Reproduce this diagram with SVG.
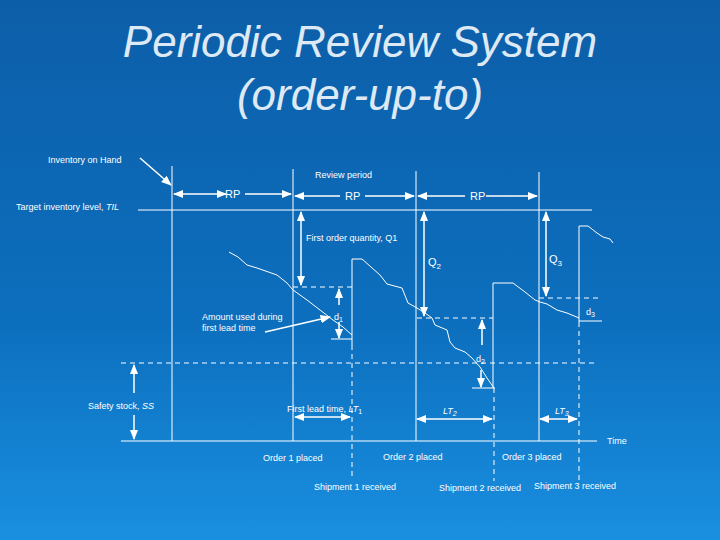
<svg xmlns="http://www.w3.org/2000/svg" width="720" height="540" viewBox="0 0 720 540">
<defs>
<linearGradient id="bg" x1="0" y1="0" x2="0" y2="1"><stop offset="0" stop-color="#0d5ea8"/><stop offset="0.6" stop-color="#0c6fbe"/><stop offset="1" stop-color="#1a8fe0"/></linearGradient>
<marker id="ah" viewBox="0 0 10 10" refX="9" refY="5" markerWidth="7" markerHeight="7" orient="auto-start-reverse"><path d="M0,1 L10,5 L0,9 z" fill="#fff"/></marker>
</defs>
<style>
.l{stroke:#fff;stroke-width:1;fill:none}
.d{stroke:#fff;stroke-width:1;fill:none;stroke-dasharray:5,4}
.a{stroke:#fff;stroke-width:1.5;fill:none;marker-end:url(#ah)}
.b{stroke:#fff;stroke-width:1.5;fill:none;marker-end:url(#ah);marker-start:url(#ah)}
text{font-family:"Liberation Sans",Arial,sans-serif;fill:#fff;font-size:9px}
.t{font-size:44px;font-style:italic;fill:#dde9f4;text-anchor:middle}
.m{font-size:11px}
</style>
<rect width="720" height="540" fill="url(#bg)"/>
<text class="t" x="360" y="57">Periodic Review System</text>
<text class="t" x="360" y="110">(order-up-to)</text>
<g id="axes">
<line class="l" x1="121" y1="441" x2="597" y2="441"/>
<line class="l" x1="138" y1="210" x2="592" y2="210"/>
<line class="d" x1="121" y1="363" x2="595" y2="363"/>
<line class="l" x1="172" y1="166" x2="172" y2="441"/>
<line class="l" x1="293" y1="169" x2="293" y2="441"/>
<line class="l" x1="416" y1="171" x2="416" y2="441"/>
<line class="l" x1="539" y1="172" x2="539" y2="441"/>
</g>
<g id="inventory">
<polyline class="l" points="229,252 238,257 247,265 257,268 277,275 287,283 293,290 307,300 320,310 333,320 343,327 352,335"/>
<polyline class="l" points="352,345 352,259 362,259 380,275 387,284 402,288 408,303 417,308 425,313 432,318 435,325 447,330 450,342 455,348 465,352 472,358 480,367 487,378 494,388"/>
<polyline class="l" points="493,388 493,283 513,283 525,292 535,300 540,302 547,304 557,310 567,313 579,318"/>
<polyline class="l" points="579,322 579,226 588,226 597,233 603,237 610,239 613,243"/>
<line class="d" x1="352" y1="345" x2="352" y2="480"/>
<line class="d" x1="494" y1="388" x2="494" y2="481"/>
<line class="d" x1="579" y1="322" x2="579" y2="480"/>
<line class="d" x1="293" y1="287" x2="352" y2="287"/>
<line class="d" x1="417" y1="318" x2="493" y2="318"/>
<line class="d" x1="539" y1="298" x2="601" y2="298"/>
<line class="l" x1="331" y1="339" x2="352" y2="339"/>
<line class="l" x1="472" y1="388" x2="495" y2="388"/>
<line class="l" x1="579" y1="321" x2="602" y2="321"/>
</g>
<g id="connectors">
<line class="a" x1="140" y1="158" x2="171" y2="185"/>
<line class="b" x1="174" y1="194" x2="226" y2="194"/><line class="a" x1="245" y1="194" x2="291" y2="194"/>
<line class="a" x1="340" y1="196" x2="295" y2="196"/><line class="a" x1="365" y1="196" x2="414" y2="196"/>
<line class="a" x1="465" y1="196" x2="418" y2="196"/><line class="a" x1="486" y1="196" x2="537" y2="196"/>
<line class="b" x1="301" y1="212" x2="301" y2="285"/>
<line class="b" x1="424" y1="212" x2="424" y2="316"/>
<line class="b" x1="546" y1="212" x2="546" y2="296"/>
<line class="a" x1="339" y1="305" x2="339" y2="289"/><line class="a" x1="339" y1="322" x2="339" y2="338"/>
<line class="a" x1="482" y1="345" x2="482" y2="320"/><line class="a" x1="481" y1="370" x2="481" y2="387"/>
<line class="a" x1="265" y1="332" x2="330" y2="317"/>
<line class="a" x1="134" y1="393" x2="134" y2="365"/><line class="a" x1="134" y1="415" x2="134" y2="439"/>
<line class="b" x1="295" y1="417" x2="350" y2="417"/>
<line class="b" x1="417" y1="419" x2="492" y2="419"/>
<line class="b" x1="540" y1="419" x2="577" y2="419"/>
</g>
<g id="labels">
<text x="48" y="163">Inventory on Hand</text>
<text x="16" y="210">Target inventory level, <tspan font-style="italic">TIL</tspan></text>
<text x="315" y="178">Review period</text>
<text class="m" x="225" y="198">RP</text>
<text class="m" x="345" y="200">RP</text>
<text class="m" x="470" y="200">RP</text>
<text x="306" y="241">First order quantity, Q1</text>
<text class="m" x="428" y="266">Q<tspan font-size="8" dy="3">2</tspan></text>
<text class="m" x="549" y="263">Q<tspan font-size="8" dy="3">3</tspan></text>
<text x="202" y="320">Amount used during</text>
<text x="202" y="331">first lead time</text>
<text x="334" y="320">d<tspan font-size="7" dy="2">1</tspan></text>
<text x="476" y="362">d<tspan font-size="7" dy="2">2</tspan></text>
<text x="586" y="315">d<tspan font-size="7" dy="2">3</tspan></text>
<text x="88" y="409">Safety stock, <tspan font-style="italic">SS</tspan></text>
<text x="287" y="412">First lead time, <tspan font-style="italic">LT</tspan><tspan font-size="7" dy="2">1</tspan></text>
<text x="443" y="414" font-style="italic">LT<tspan font-size="7" dy="2">2</tspan></text>
<text x="555" y="414" font-style="italic">LT<tspan font-size="7" dy="2">3</tspan></text>
<text x="607" y="444">Time</text>
<text x="263" y="461">Order 1 placed</text>
<text x="383" y="460">Order 2 placed</text>
<text x="502" y="460">Order 3 placed</text>
<text x="314" y="490">Shipment 1 received</text>
<text x="439" y="491">Shipment 2 received</text>
<text x="534" y="489">Shipment 3 received</text>
</g>
</svg>
